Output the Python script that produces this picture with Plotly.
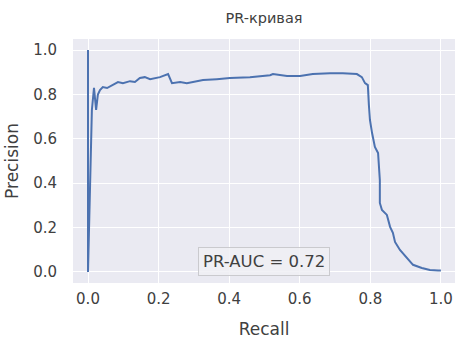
import plotly.graph_objects as go

recall = [0.0, 0.0, 0.011, 0.017, 0.023, 0.028, 0.034, 0.042, 0.054, 0.071, 0.085, 0.099,
          0.119, 0.133, 0.147, 0.161, 0.176, 0.204, 0.227, 0.238, 0.261, 0.280, 0.297,
          0.326, 0.365, 0.402, 0.459, 0.516, 0.524, 0.564, 0.601, 0.637, 0.686, 0.722,
          0.762, 0.776, 0.785, 0.793, 0.796, 0.799, 0.805, 0.813, 0.822, 0.824, 0.827,
          0.827, 0.833, 0.847, 0.856, 0.864, 0.870, 0.884, 0.904, 0.921, 0.946, 0.969,
          0.992, 1.0]
precision = [1.0, 0.0, 0.73, 0.83, 0.73, 0.80, 0.82, 0.833, 0.829, 0.842, 0.856, 0.851,
             0.860, 0.856, 0.874, 0.878, 0.869, 0.878, 0.892, 0.851, 0.856, 0.851, 0.856,
             0.865, 0.869, 0.874, 0.878, 0.887, 0.892, 0.883, 0.883, 0.892, 0.896, 0.896,
             0.892, 0.878, 0.851, 0.842, 0.752, 0.685, 0.626, 0.563, 0.536, 0.491, 0.414,
             0.311, 0.279, 0.257, 0.203, 0.176, 0.135, 0.099, 0.063, 0.032, 0.018, 0.009,
             0.006, 0.006]
pr_auc = 0.72
tick_vals = [0.0, 0.2, 0.4, 0.6, 0.8, 1.0]
tick_text = ["0.0", "0.2", "0.4", "0.6", "0.8", "1.0"]

txt = "#404040"
fig = go.Figure()
fig.add_trace(go.Scatter(x=recall, y=precision, mode="lines",
                         line=dict(color="#4C72B0", width=2), showlegend=False,
                         hoverinfo="skip"))
fig.add_annotation(x=0.5, y=0.045, xref="x", yref="y", text=f"PR-AUC = {pr_auc:.2f}",
                   showarrow=False, font=dict(size=16.5, color=txt, family="DejaVu Sans"),
                   bgcolor="rgba(240,240,244,0.85)", bordercolor="#cacace", borderwidth=1,
                   borderpad=4)
fig.update_layout(
    width=473, height=340,
    margin=dict(l=73, r=18, t=39, b=57, autoexpand=False),
    paper_bgcolor="white", plot_bgcolor="#EAEAF2",
    font=dict(family="DejaVu Sans", color=txt, size=15),
    title=dict(text="PR-кривая", x=0.5, xanchor="center", xref="paper", y=1 - 18 / 340,
               yanchor="middle", font=dict(size=14.5, color=txt)),
)
fig.update_xaxes(range=[-0.0425, 1.04], tickvals=tick_vals, ticktext=tick_text,
                 showgrid=True, gridcolor="white", gridwidth=1.3, zeroline=False,
                 ticks="outside", ticklen=2, tickcolor="rgba(0,0,0,0)", showline=False,
                 automargin=False,
                 title=dict(text="Recall", font=dict(size=17, color=txt), standoff=16),
                 tickfont=dict(size=15, color=txt))
fig.update_yaxes(range=[-0.05, 1.05], tickvals=tick_vals, ticktext=tick_text,
                 showgrid=True, gridcolor="white", gridwidth=1.3, zeroline=False,
                 ticks="outside", ticklen=12, tickcolor="rgba(0,0,0,0)", showline=False,
                 automargin=False,
                 title=dict(text="Precision", font=dict(size=17, color=txt), standoff=10),
                 tickfont=dict(size=15, color=txt))
fig.write_html("out.html", config={"displayModeBar": False},
               post_script="document.body.style.margin='0';")
